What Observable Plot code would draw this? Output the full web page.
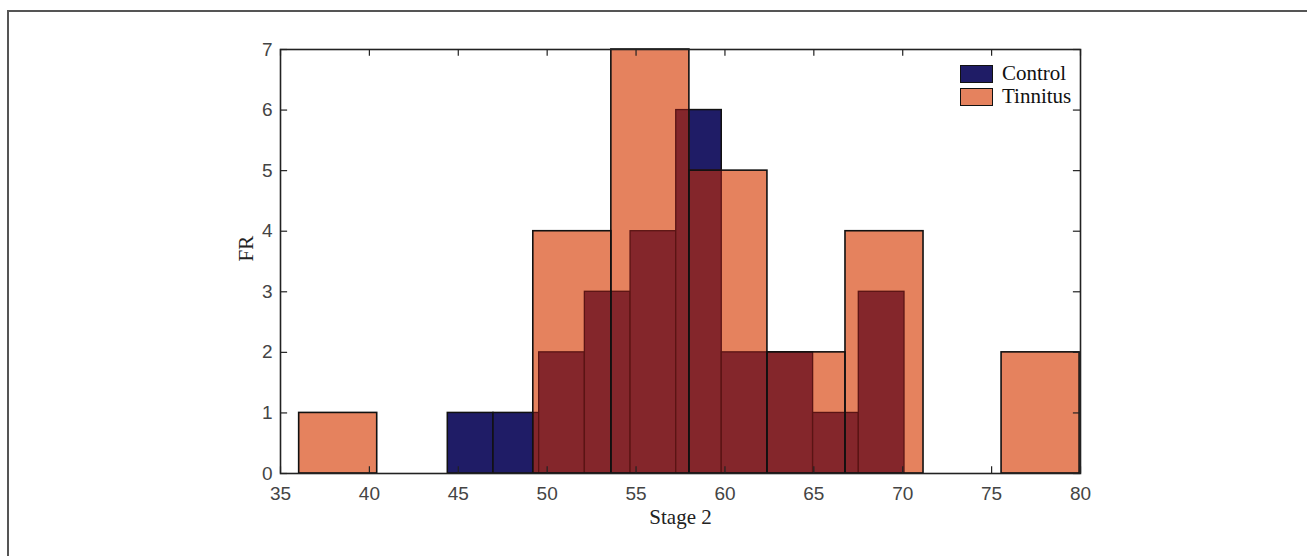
<!DOCTYPE html>
<html>
<head>
<meta charset="utf-8">
<script src="https://cdn.jsdelivr.net/npm/d3@7"></script>
<script src="https://cdn.jsdelivr.net/npm/@observablehq/plot@0.6"></script>
<style>
  html, body { margin: 0; padding: 0; background: #fff; }
  #wrap { position: relative; width: 1307px; height: 556px; overflow: hidden; }
  #outer { position: absolute; left: 7px; top: 10px; width: 1320px; height: 560px;
           border-top: 2px solid #555; border-left: 2px solid #555; }
  #chart { position: absolute; left: 0; top: 0; }
  #legend { position: absolute; left: 960px; top: 63px; font-family: "Liberation Serif", "Times New Roman", serif;
            font-size: 21px; color: #111; line-height: 21px; }
  .row { display: flex; align-items: center; height: 21px; margin-bottom: 2px; }
  .sw { width: 31px; height: 16px; border: 1.5px solid #111; margin-right: 9px; box-sizing: content-box; }
</style>
</head>
<body>
<div id="wrap">
  <div id="outer"></div>
  <div id="chart"></div>
  <div id="legend"></div>
</div>
<script>
// ---- data ----
const seriesNames = ["Control", "Tinnitus"];
const seriesColors = ["#1f1c66", "#e5825e"];
const overlapColor = "#84262b";

const controlEdges = [44.41, 46.98, 49.55, 52.12, 54.69, 57.26, 59.82, 62.39, 64.96, 67.53, 70.10];
const controlCounts = [1, 1, 2, 3, 4, 6, 2, 2, 1, 3];

const tinnitusEdges = [36.05, 40.44, 44.83, 49.22, 53.61, 58.00, 62.39, 66.78, 71.17, 75.56, 79.95];
const tinnitusCounts = [1, 0, 0, 4, 7, 5, 2, 4, 0, 2];

const xTicks = [35, 40, 45, 50, 55, 60, 65, 70, 75, 80];
const yTicks = [0, 1, 2, 3, 4, 5, 6, 7];
const xLabel = "Stage 2";
const yLabel = "FR";

// ---- derived tables ----
const control = controlCounts.map((c, i) => ({x1: controlEdges[i], x2: controlEdges[i + 1], y: c}));
const tinnitus = tinnitusCounts.map((c, i) => ({x1: tinnitusEdges[i], x2: tinnitusEdges[i + 1], y: c}));
const overlap = [];
for (const c of control) for (const t of tinnitus) {
  const lo = Math.max(c.x1, t.x1), hi = Math.min(c.x2, t.x2), h = Math.min(c.y, t.y);
  if (hi > lo && h > 0) overlap.push({x1: lo, x2: hi, y: h});
}

const fmt = d => String(d);

const chart = Plot.plot({
  width: 1307,
  height: 556,
  marginLeft: 280,
  marginRight: 227,
  marginTop: 49,
  marginBottom: 83,
  style: {background: "transparent", fontFamily: "'Liberation Sans', Arial, sans-serif"},
  x: {domain: [35, 80], ticks: xTicks, tickFormat: fmt},
  y: {domain: [0, 7], ticks: yTicks, tickFormat: fmt},
  marks: [
    Plot.rectY(control, {x1: "x1", x2: "x2", y1: 0, y2: "y", fill: seriesColors[0], stroke: "#111", strokeWidth: 1.5}),
    Plot.rectY(tinnitus, {x1: "x1", x2: "x2", y1: 0, y2: "y", fill: seriesColors[1]}),
    Plot.rectY(overlap, {x1: "x1", x2: "x2", y1: 0, y2: "y", fill: overlapColor, stroke: "#5a1414", strokeWidth: 1.3}),
    Plot.rectY(tinnitus, {x1: "x1", x2: "x2", y1: 0, y2: "y", fill: "none", stroke: "#111", strokeWidth: 1.6}),
    Plot.frame({stroke: "#222", strokeWidth: 1.6}),
    Plot.ruleX(xTicks, {x: d => d, y1: 0, y2: 0.11, stroke: "#222", strokeWidth: 1.2}),
    Plot.ruleX(xTicks, {x: d => d, y1: 6.89, y2: 7, stroke: "#222", strokeWidth: 1.2}),
    Plot.ruleY(yTicks, {y: d => d, x1: 35, x2: 35.4, stroke: "#222", strokeWidth: 1.2}),
    Plot.ruleY(yTicks, {y: d => d, x1: 79.6, x2: 80, stroke: "#222", strokeWidth: 1.2}),
    Plot.axisX(xTicks, {tickSize: 0, tickPadding: 13, fontSize: 19, fill: "#444", label: null, tickFormat: fmt}),
    Plot.axisY(yTicks, {tickSize: 0, tickPadding: 8, fontSize: 19, fill: "#444", label: null, tickFormat: fmt}),
    Plot.text([xLabel], {frameAnchor: "bottom", dy: 50, text: d => d, fontSize: 21,
      fontFamily: "'Liberation Serif', 'Times New Roman', serif", fill: "#222"}),
    Plot.text([yLabel], {frameAnchor: "left", dx: -34, rotate: -90, text: d => d, fontSize: 21,
      fontFamily: "'Liberation Serif', 'Times New Roman', serif", fill: "#222"})
  ]
});
document.getElementById("chart").appendChild(chart);

const legend = document.getElementById("legend");
seriesNames.forEach((name, i) => {
  const row = document.createElement("div");
  row.className = "row";
  const sw = document.createElement("div");
  sw.className = "sw";
  sw.style.background = seriesColors[i];
  const label = document.createElement("span");
  label.textContent = name;
  row.appendChild(sw);
  row.appendChild(label);
  legend.appendChild(row);
});
</script>
</body>
</html>
